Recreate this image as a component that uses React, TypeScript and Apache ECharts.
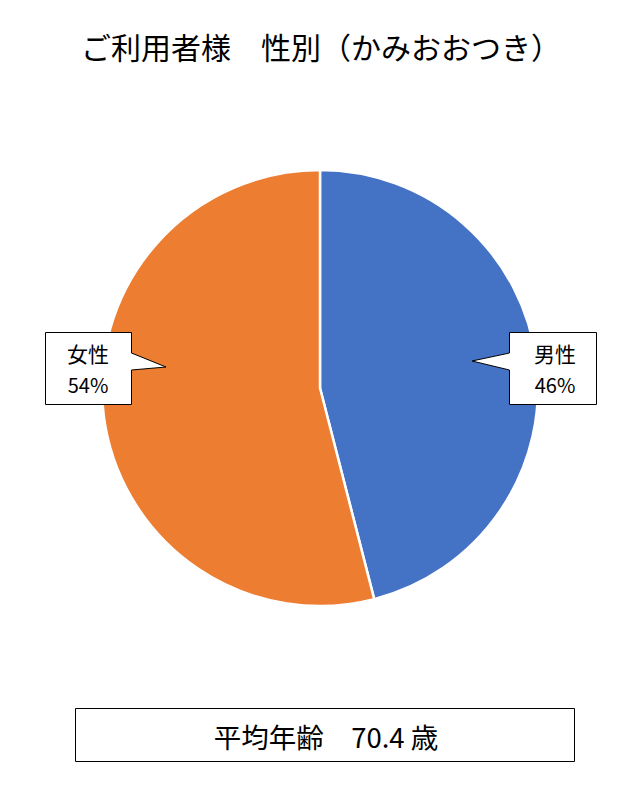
import React, { useEffect, useRef } from "react";
import * as echarts from "echarts";

const titleText = "ご利用者様　性別（かみおおつき）";
const categories = ["男性", "女性"];
const values = [46, 54];
const colors = ["#4472C4", "#ED7D31"];
const averageAgeLabel = "平均年齢";
const averageAge = 70.4;
const ageUnit = "歳";

const FONT = "'Noto Sans CJK JP', 'Noto Sans', sans-serif";

// callout layout per category: box rect and pointer tip
const callouts = [
  { box: [509, 332, 87, 72], tip: [472, 361], side: "left", textX: 555 },
  { box: [45, 332, 86, 72], tip: [166, 367], side: "right", textX: 88 },
];

function callout(i: number) {
  const c = callouts[i];
  const [x, y, w, h] = c.box;
  const edgeX = c.side === "left" ? x : x + w;
  const inner = c.side === "left" ? edgeX + 2 : edgeX - 2;
  const total = values.reduce((a, b) => a + b, 0);
  const pct = Math.round((values[i] / total) * 100) + "%";
  return [
    {
      type: "rect",
      shape: { x: x + 0.5, y: y + 0.5, width: w, height: h },
      style: { fill: "#fff", stroke: "#000", lineWidth: 1 },
      z: 10,
    },
    {
      type: "polygon",
      shape: {
        points: [
          [inner, 353],
          [edgeX, 353],
          c.tip,
          [edgeX, 370],
          [inner, 370],
        ],
      },
      style: { fill: "#fff", stroke: null },
      z: 11,
    },
    {
      type: "polyline",
      shape: { points: [[edgeX + 0.5, 353], c.tip, [edgeX + 0.5, 370]] },
      style: { stroke: "#000", lineWidth: 1, fill: null },
      z: 12,
    },
    {
      type: "text",
      x: c.textX,
      y: 353,
      style: {
        text: categories[i],
        font: `21px ${FONT}`,
        fill: "#000",
        align: "center",
        verticalAlign: "middle",
      },
      z: 13,
    },
    {
      type: "text",
      x: c.textX,
      y: 384,
      style: {
        text: pct,
        font: `20px ${FONT}`,
        fill: "#000",
        align: "center",
        verticalAlign: "middle",
      },
      z: 13,
    },
  ];
}

export default function App() {
  const ref = useRef<HTMLDivElement>(null);
  useEffect(() => {
    document.body.style.margin = "0";
    if (!ref.current) return;
    const chart = echarts.init(ref.current, undefined, { renderer: "svg" });
    chart.setOption({
      animation: false,
      backgroundColor: "#fff",
      graphic: [
        ...callout(0),
        ...callout(1),
        {
          type: "text",
          x: 321,
          y: 46,
          style: {
            text: titleText,
            font: `30px ${FONT}`,
            fill: "#000",
            align: "center",
            verticalAlign: "middle",
          },
        },
        {
          type: "rect",
          shape: { x: 75.5, y: 708.5, width: 499, height: 53 },
          style: { fill: "#fff", stroke: "#000", lineWidth: 1 },
        },
        {
          type: "text",
          x: 326,
          y: 736,
          style: {
            text: `${averageAgeLabel}　${averageAge.toFixed(1)} ${ageUnit}`,
            font: `27.5px ${FONT}`,
            fill: "#000",
            align: "center",
            verticalAlign: "middle",
          },
        },
      ],
      series: [
        {
          type: "pie",
          center: [320, 388],
          radius: 218,
          startAngle: 90,
          clockwise: true,
          label: { show: false },
          labelLine: { show: false },
          emphasis: { disabled: true },
          itemStyle: { borderColor: "#fff", borderWidth: 2.5 },
          data: categories.map((name, i) => ({
            name,
            value: values[i],
            itemStyle: { color: colors[i] },
          })),
        },
      ],
    });
    return () => chart.dispose();
  }, []);
  return <div ref={ref} style={{ width: 640, height: 800 }} />;
}
